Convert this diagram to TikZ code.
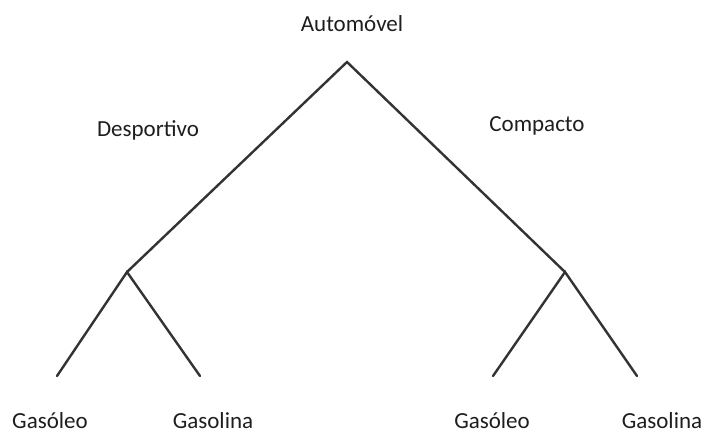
\documentclass[tikz,border=0pt]{standalone}
\usepackage{fontspec}
\setmainfont{Carlito}
\definecolor{branch}{HTML}{333333}
\definecolor{labeltext}{HTML}{1E1E1E}
\begin{document}
\begin{tikzpicture}[x=1pt,y=-1pt,
  edge/.style={draw=branch,line width=2.4pt,line cap=round,line join=miter},
  lbl/.style={font=\fontsize{23}{26}\selectfont,text=labeltext,inner sep=0pt,anchor=center}]
\useasboundingbox (0,0) rectangle (705,434);
% branching points
\coordinate (root) at (347,62);
\coordinate (sport) at (127,272);
\coordinate (compact) at (565,272);
\coordinate (sg) at (57,376);
\coordinate (sp) at (200,376);
\coordinate (cg) at (493,376);
\coordinate (cp) at (637,376);
% tree
\draw[edge] (sport) -- (root) -- (compact);
\draw[edge] (sg) -- (sport) -- (sp);
\draw[edge] (cg) -- (compact) -- (cp);
% labels
\node[lbl] (tAuto) at (352,24) {Automóvel};
\node[lbl] (tSport) at (148,130) {Desportivo};
\node[lbl] (tCompact) at (537,126) {Compacto};
\node[lbl] (tsg) at (50,421) {Gasóleo};
\node[lbl] (tsp) at (213,421) {Gasolina};
\node[lbl] (tcg) at (492,421) {Gasóleo};
\node[lbl] (tcp) at (662,421) {Gasolina};
\end{tikzpicture}
\end{document}
